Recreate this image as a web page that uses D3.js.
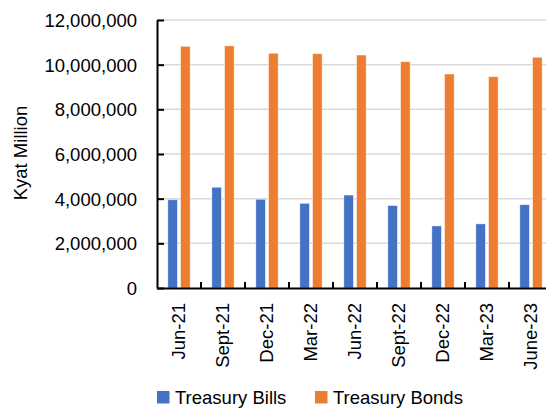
<!DOCTYPE html>
<html>
<head>
<meta charset="utf-8">
<script src="https://cdn.jsdelivr.net/npm/d3@7"></script>
<style>
  body { margin: 0; background: #fff; }
  svg { display: block; font-family: "Liberation Sans", Arial, sans-serif; }
</style>
</head>
<body>
<svg id="chart" width="546" height="408"></svg>
<script>
const categories = ["Jun-21", "Sept-21", "Dec-21", "Mar-22", "Jun-22", "Sept-22", "Dec-22", "Mar-23", "June-23"];
const seriesNames = ["Treasury Bills", "Treasury Bonds"];
const treasuryBills = [3950000, 4510000, 3970000, 3790000, 4160000, 3690000, 2780000, 2870000, 3730000];
const treasuryBonds = [10820000, 10840000, 10510000, 10490000, 10430000, 10130000, 9580000, 9460000, 10330000];
const yTicks = [0, 2000000, 4000000, 6000000, 8000000, 10000000, 12000000];
const colors = ["#4472C4", "#ED7D31"];

const svg = d3.select("#chart");
const plotLeft = 157, plotTop = 20, plotBottom = 288, plotRight = 553;

const x = d3.scaleBand().domain(categories).range([plotLeft, plotRight]).padding(0);
const xs = d3.scaleBand().domain(seriesNames).range([0, x.bandwidth()])
  .paddingInner(0.255).paddingOuter(0.853);
const y = d3.scaleLinear().domain([0, 12000000]).range([plotBottom, plotTop]);

// gridlines
svg.append("g")
  .selectAll("line")
  .data(yTicks.filter(d => d > 0))
  .join("line")
  .attr("x1", plotLeft).attr("x2", plotRight)
  .attr("y1", d => y(d)).attr("y2", d => y(d))
  .attr("stroke", "#d9d9d9")
  .attr("stroke-width", 1.5);

// bars
const rows = categories.map((c, i) => ({ cat: c, vals: [treasuryBills[i], treasuryBonds[i]] }));
const groups = svg.append("g")
  .selectAll("g")
  .data(rows)
  .join("g")
  .attr("transform", d => "translate(" + x(d.cat) + ",0)");

groups.selectAll("rect")
  .data(d => d.vals.map((v, j) => ({ name: seriesNames[j], v: v, j: j })))
  .join("rect")
  .attr("x", d => xs(d.name))
  .attr("width", xs.bandwidth())
  .attr("y", d => y(d.v))
  .attr("height", d => plotBottom - y(d.v))
  .attr("fill", d => colors[d.j])
  .attr("stroke", "#fff")
  .attr("stroke-opacity", 0.5)
  .attr("stroke-width", 0.75);

// y axis
const yAxis = d3.axisLeft(y)
  .tickValues(yTicks)
  .tickFormat(d3.format(","))
  .tickSizeInner(-7)
  .tickSizeOuter(0)
  .tickPadding(20);

const yg = svg.append("g")
  .attr("transform", "translate(" + plotLeft + ",0)")
  .call(yAxis);
yg.select(".domain").attr("stroke", "#000").attr("stroke-width", 2);
yg.selectAll(".tick line").attr("stroke", "#000").attr("stroke-width", 2);
yg.selectAll(".tick text")
  .attr("font-size", 18.5)
  .attr("font-family", "Liberation Sans, Arial, sans-serif")
  .attr("fill", "#000")
  .attr("dy", "0.35em");

// x axis
const xAxis = d3.axisBottom(x).tickSize(0).tickSizeOuter(0);
const xg = svg.append("g")
  .attr("transform", "translate(0," + plotBottom + ")")
  .call(xAxis);
xg.select(".domain").attr("stroke", "#000").attr("stroke-width", 2);
// boundary ticks between categories (pointing inward)
xg.append("g")
  .selectAll("line")
  .data(categories.slice(1))
  .join("line")
  .attr("x1", d => x(d)).attr("x2", d => x(d))
  .attr("y1", 0).attr("y2", -6)
  .attr("stroke", "#000")
  .attr("stroke-width", 2);
xg.selectAll(".tick text")
  .attr("font-size", 18.5)
  .attr("font-family", "Liberation Sans, Arial, sans-serif")
  .attr("fill", "#000")
  .attr("text-anchor", "end")
  .attr("transform", "rotate(-90)")
  .attr("x", -15)
  .attr("y", 0)
  .attr("dy", "0.35em");

// y axis title
svg.append("text")
  .attr("transform", "translate(27,153) rotate(-90)")
  .attr("text-anchor", "middle")
  .attr("font-size", 18.5)
  .attr("fill", "#000")
  .text("Kyat  Million");

// legend
const legend = svg.append("g");
const legX = [157, 315];
seriesNames.forEach((name, i) => {
  legend.append("rect")
    .attr("x", legX[i]).attr("y", 391)
    .attr("width", 12.5).attr("height", 12.5)
    .attr("fill", colors[i]);
  legend.append("text")
    .attr("x", legX[i] + 18).attr("y", 403.5)
    .attr("font-size", 18.5)
    .attr("fill", "#000")
    .text(name);
});
</script>
</body>
</html>
